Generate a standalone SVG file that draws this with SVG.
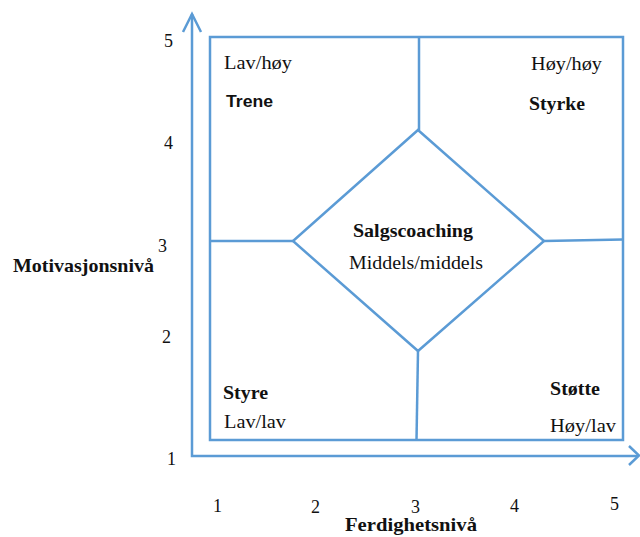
<svg xmlns="http://www.w3.org/2000/svg" width="640" height="537" viewBox="0 0 640 537">
<style>
.ln{fill:none;stroke:#5B9BD5;stroke-width:2.5;stroke-linejoin:miter}
.t{font-family:"Liberation Serif",serif;font-size:19px;fill:#111}
.n{font-family:"Liberation Serif",serif;font-size:18px;fill:#111}
.b{font-family:"Liberation Serif",serif;font-size:19px;font-weight:bold;fill:#111}
.s{font-family:"Liberation Sans",sans-serif;font-size:17px;font-weight:bold;fill:#111}
</style>
<rect width="640" height="537" fill="#fff"/>
<g id="connectors">
<path class="ln" d="M192,14 V456 H638"/>
<path class="ln" d="M183,32 L192,14 L201,32"/>
<path class="ln" d="M629,446 L639,455.5 L629,465"/>
<rect class="ln" x="210" y="37" width="413" height="403"/>
<path class="ln" d="M419,37 V130"/>
<path class="ln" d="M210,241 H293"/>
<path class="ln" d="M544,241 L623,239.5"/>
<path class="ln" d="M418,351 L416.5,440"/>
</g>
<g id="diamond">
<polygon class="ln" points="418,130 544,241 418,351 293,241"/>
<text class="b" x="353" y="237" textLength="120" lengthAdjust="spacingAndGlyphs">Salgscoaching</text>
<text class="t" x="349" y="269" textLength="134" lengthAdjust="spacingAndGlyphs">Middels/middels</text>
</g>
<g id="trene">
<text class="t" x="224" y="69" textLength="68" lengthAdjust="spacingAndGlyphs">Lav/høy</text>
<text class="s" x="226" y="107" textLength="47" lengthAdjust="spacingAndGlyphs">Trene</text>
</g>
<g id="styrke">
<text class="t" x="531" y="70" textLength="71" lengthAdjust="spacingAndGlyphs">Høy/høy</text>
<text class="b" x="529" y="110" textLength="56" lengthAdjust="spacingAndGlyphs">Styrke</text>
</g>
<g id="styre">
<text class="b" x="223" y="399" textLength="45" lengthAdjust="spacingAndGlyphs">Styre</text>
<text class="t" x="224" y="428" textLength="62" lengthAdjust="spacingAndGlyphs">Lav/lav</text>
</g>
<g id="stotte">
<text class="b" x="550" y="395" textLength="50" lengthAdjust="spacingAndGlyphs">Støtte</text>
<text class="t" x="550" y="432" textLength="66" lengthAdjust="spacingAndGlyphs">Høy/lav</text>
</g>
<g id="yaxis">
<text class="n" x="164" y="47">5</text>
<text class="n" x="164" y="149">4</text>
<text class="n" x="158" y="252">3</text>
<text class="n" x="162" y="343">2</text>
<text class="n" x="167" y="465">1</text>
<text class="b" x="13" y="272" textLength="141" lengthAdjust="spacingAndGlyphs">Motivasjonsnivå</text>
</g>
<g id="xaxis">
<text class="n" x="213" y="512">1</text>
<text class="n" x="311" y="513">2</text>
<text class="n" x="411" y="513">3</text>
<text class="n" x="510" y="512">4</text>
<text class="n" x="610" y="510">5</text>
<text class="b" x="345" y="531" textLength="132" lengthAdjust="spacingAndGlyphs">Ferdighetsnivå</text>
</g>
</svg>
